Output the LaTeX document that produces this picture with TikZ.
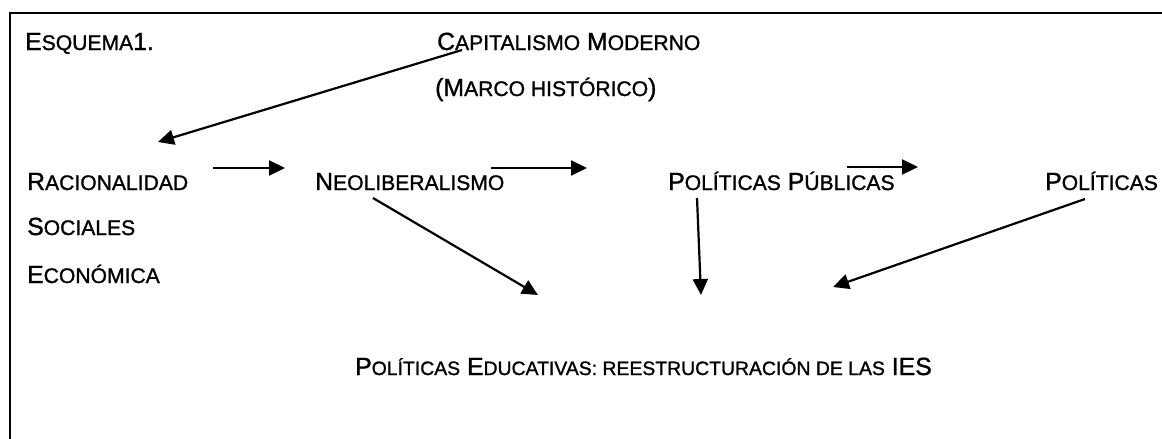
\documentclass[tikz,border=0pt]{standalone}
\usepackage{fontspec}
\setmainfont{Liberation Sans}[FakeBold=1.2]
\usetikzlibrary{arrows.meta,calc}
\newcommand\smc[2][21.1]{{\fontsize{#1}{#1}\selectfont #2}}
\begin{document}
\begin{tikzpicture}[x=1pt,y=-1pt,
  lbl/.style={anchor=base west,inner sep=0pt,font=\fontsize{24.8}{24.8}\selectfont},
  conn/.style={line width=2.2pt,-{Triangle[length=16pt,width=15pt]}}]
\useasboundingbox (0,0) rectangle (1162,439);
\draw[line width=2.4pt] (10,439) -- (10,13) -- (1162,13);
\node[lbl] (esq) at (25,50) {E\smc{SQUEMA}1.};
\node[lbl] (cap) at (437,50) {C\smc{APITALISMO} M\smc{ODERNO}};
\node[lbl] (marco) at (435,96) {(M\smc{ARCO HISTÓRICO})};
\node[lbl] (rac) at (27,190) {R\smc{ACIONALIDAD}};
\node[lbl] (soc) at (27,235) {S\smc{OCIALES}};
\node[lbl] (eco) at (27,283) {E\smc{CONÓMICA}};
\node[lbl] (neo) at (315,190) {N\smc{EOLIBERALISMO}};
\node[lbl] (pp) at (668,190) {P\smc{OLÍTICAS} P\smc{ÚBLICAS}};
\node[lbl] (pol) at (1045,190) {P\smc{OLÍTICAS}};
\node[lbl] (edu) at (355,375) {P\smc[19.4]{OLÍTICAS} E\smc[19.4]{DUCATIVAS: REESTRUCTURACIÓN DE LAS} IES};
\draw[conn] ($(cap.base west)+(25,0)$) -- ($(rac.base west)+(131,-48)$);
\draw[conn] ($(rac.base west)+(186,-22)$) -- ($(neo.base west)+(-30,-22)$);
\draw[conn] ($(neo.base west)+(176,-22)$) -- ($(pp.base west)+(-81,-22)$);
\draw[conn] ($(pp.base west)+(179,-23)$) -- ($(pol.base west)+(-127,-23)$);
\draw[conn] ($(neo.base west)+(58,8)$) -- ($(edu.base west)+(183,-80)$);
\draw[conn] ($(pp.base west)+(29,8)$) -- ($(edu.base west)+(346,-80)$);
\draw[conn] ($(pol.base west)+(40,9)$) -- ($(edu.base west)+(478,-88)$);
\end{tikzpicture}
\end{document}
